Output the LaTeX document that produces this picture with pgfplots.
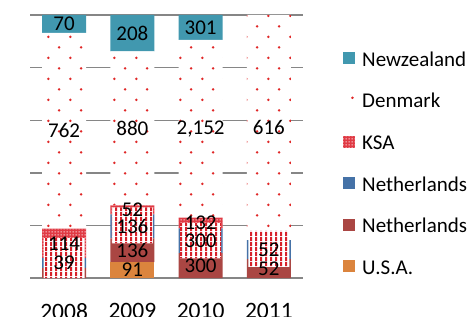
\documentclass[border=0pt]{standalone}
\usepackage{pgfplots}
\pgfplotsset{compat=1.18}
\usepackage{pgfplotstable}
\usepackage{fontspec}
\setmainfont{Carlito}
\usetikzlibrary{patterns.meta}

\definecolor{nz}{HTML}{4198AF}
\definecolor{nlb}{HTML}{4572A7}
\definecolor{nlr}{HTML}{AA4643}
\definecolor{usa}{HTML}{DB843D}
\definecolor{dkred}{HTML}{E02828}
\definecolor{ksared}{HTML}{E03A44}
\definecolor{stred}{HTML}{D7202A}
\definecolor{gridgray}{HTML}{868686}

\tikzdeclarepattern{
  name=dkdots, type=uncolored,
  bottom left={(0bp,0bp)}, top right={(21.7bp,21.4bp)},
  tile size={(21.7bp,21.4bp)},
  code={
    \fill (5.4bp,5.35bp) circle (1.4bp);
    \fill (16.25bp,16.05bp) circle (1.4bp);
  }
}
\tikzdeclarepattern{
  name=vstripes, type=uncolored,
  bottom left={(0bp,0bp)}, top right={(4.5bp,4.5bp)},
  tile size={(4.5bp,4.5bp)},
  code={\fill (0bp,0bp) rectangle (2.3bp,4.5bp);}
}
\tikzdeclarepattern{
  name=wdots, type=uncolored,
  bottom left={(0bp,0bp)}, top right={(3bp,3bp)},
  tile size={(3bp,3bp)},
  code={\fill (0.9bp,0.9bp) rectangle (2.1bp,2.1bp);}
}

\pgfplotstableread{
x usa nlr nlb ksa dk nz nlrlab
0 0 39 39 114 762 70 0
1 91 136 136 52 880 208 136
2 0 300 300 132 2152 301 300
3 0 52 52 0 616 0 52
}\data

\pgfplotstableread{
x off stripe
0 0 15.2
1 13.2 13.7
2 7.5 13.5
3 4.2 13.7
}\overlaytab

\newcommand{\tot}{(\thisrow{usa}+\thisrow{nlr}+\thisrow{nlb}+\thisrow{ksa}+\thisrow{dk}+\thisrow{nz})}

\pgfplotsset{
  base/.style={at={(30bp,38bp)}, anchor=south west, width=273bp, height=263bp,
    scale only axis, xmin=-0.5, xmax=3.5, ymin=0, ymax=100, enlargelimits=false},
  lab/.style={draw=none, mark=none, point meta=#1,
    nodes near coords={\pgfmathfloatparsenumber{\pgfplotspointmeta}\pgfmathfloatifflags{\pgfmathresult}{0}{}{\pgfmathprintnumber[assume math mode=true]{\pgfplotspointmeta}}},
    every node near coord/.append style={anchor=center, inner sep=0pt, text=black,
      font=\fontsize{21bp}{25bp}\selectfont}},
}

\begin{document}
\begin{tikzpicture}[x=1bp,y=1bp]
\useasboundingbox (0,0) rectangle (470,316);

\begin{axis}[base, ybar stacked, bar width=0.645,
  axis line style={draw=none}, major tick length=0pt,
  ytick={0,20,40,60,80,100}, yticklabels={}, ymajorgrids,
  grid style={gridgray, line width=1.4bp},
  xtick={0,1,2,3}, xticklabels={2008,2009,2010,2011},
  xticklabel style={font=\fontsize{23.5bp}{28bp}\selectfont, anchor=north, inner sep=0pt, yshift=-25bp},
  reverse legend, legend cell align=left,
  legend style={at={(1.1465,0.872)}, anchor=north west, draw=none, fill=none,
    inner sep=0pt, row sep=22.6bp, column sep=7bp,
    font=\fontsize{21bp}{25bp}\selectfont, nodes={inner sep=0pt}},
  legend image code/.code={\fill[#1] (0bp,-6bp) rectangle (12bp,6bp);},
]
\addplot[fill=usa, draw=none] table[x=x, y expr=\thisrow{usa}/\tot*100]{\data};
\addlegendentry{\strut U.S.A.}
\addplot[fill=nlr, draw=none] table[x=x, y expr=\thisrow{nlr}/\tot*100]{\data};
\addlegendentry{\strut Netherlands}
\addplot[fill=nlb, draw=none] table[x=x, y expr=\thisrow{nlb}/\tot*100]{\data};
\addlegendentry{\strut Netherlands}
\addplot[fill=ksared, draw=none, postaction={pattern=wdots, pattern color=white}] table[x=x, y expr=\thisrow{ksa}/\tot*100]{\data};
\addlegendentry{\strut KSA}
\addplot[fill=white, draw=none, postaction={pattern=dkdots, pattern color=dkred}] table[x=x, y expr=\thisrow{dk}/\tot*100]{\data};
\addlegendentry{\strut Denmark}
\addplot[fill=nz, draw=none] table[x=x, y expr=\thisrow{nz}/\tot*100]{\data};
\addlegendentry{\strut Newzealand}
\end{axis}

\begin{axis}[base, hide axis, ybar stacked, bar width=0.6]
\addplot[draw=none, fill=none] table[x=x, y=off]{\overlaytab};
\addplot[draw=none, fill=white, postaction={pattern=vstripes, pattern color=stred}] table[x=x, y=stripe]{\overlaytab};
\end{axis}

\begin{axis}[base, hide axis, clip=false]
\addplot[lab=\thisrow{usa}] table[x=x, y expr={(\thisrow{usa}/2)/\tot*100}]{\data};
\addplot[lab=\thisrow{nlrlab}] table[x=x, y expr={(\thisrow{usa}+\thisrow{nlr}/2)/\tot*100}]{\data};
\addplot[lab=\thisrow{nlb}] table[x=x, y expr={(\thisrow{usa}+\thisrow{nlr}+\thisrow{nlb}/2)/\tot*100}]{\data};
\addplot[lab=\thisrow{ksa}] table[x=x, y expr={(\thisrow{usa}+\thisrow{nlr}+\thisrow{nlb}+\thisrow{ksa}/2)/\tot*100}]{\data};
\addplot[lab=\thisrow{dk}] table[x=x, y expr={(\thisrow{usa}+\thisrow{nlr}+\thisrow{nlb}+\thisrow{ksa}+\thisrow{dk}/2)/\tot*100}]{\data};
\addplot[lab=\thisrow{nz}] table[x=x, y expr={(\thisrow{usa}+\thisrow{nlr}+\thisrow{nlb}+\thisrow{ksa}+\thisrow{dk}+\thisrow{nz}/2)/\tot*100}]{\data};
\end{axis}
\end{tikzpicture}
\end{document}
